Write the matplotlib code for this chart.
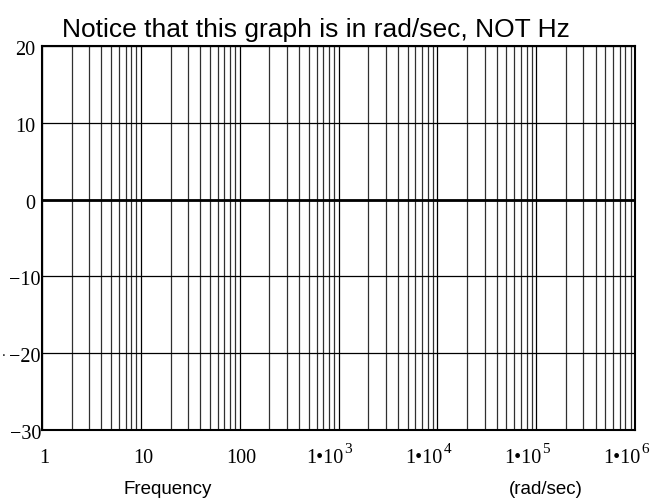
import matplotlib
matplotlib.use("Agg")
import matplotlib.pyplot as plt

# chart data
decades = [1, 10, 100, 1e3, 1e4, 1e5, 1e6]
decade_labels = ['1', '10', '100', '1•10', '1•10', '1•10', '1•10']
exponents = ['', '', '', '3', '4', '5', '6']
minor_mult = [2, 3, 4, 5, 6, 7, 8, 9]
y_ticks = [-30, -20, -10, 0, 10, 20]
y_labels = ['\u221230', '\u221220', '\u221210', '0', '10', '20']
title = 'Notice that this graph is in rad/sec, NOT Hz'

fig = plt.figure(figsize=(6.51, 5), dpi=100)
ax = fig.add_axes([0.0645, 0.14, 0.911, 0.768])
ax.set_xscale('log')
ax.set_xlim(1, 1e6)
ax.set_ylim(-30, 20)

# vertical grid: decades and 2..9 within each decade
for d in decades[:-1]:
    for m in minor_mult:
        ax.axvline(d * m, color='#303030', lw=0.9, zorder=1)
for d in decades:
    ax.axvline(d, color='black', lw=0.9, zorder=1)
for y in y_ticks:
    ax.axhline(y, color='black', lw=0.9, zorder=1)
ax.axhline(0, color='black', lw=2, zorder=2)

ax.set_xticks(decades)
ax.xaxis.set_minor_locator(plt.NullLocator())
ax.set_yticks(y_ticks)
ax.tick_params(length=0, labelbottom=False, labelleft=False)

# tick labels drawn by hand (mathcad style superscripts)
serif = 'Liberation Serif'
xt = ax.get_xaxis_transform()
for d, lab, ex in zip(decades, decade_labels, exponents):
    if ex == '':
        ax.annotate(lab, xy=(d, 0), xycoords=xt, xytext=(2, -33), textcoords='offset pixels',
                    ha='center', va='baseline', family=serif, fontsize=14.5, annotation_clip=False)
    else:
        ax.annotate(lab, xy=(d, 0), xycoords=xt, xytext=(5, -33), textcoords='offset pixels',
                    ha='right', va='baseline', family=serif, fontsize=14.5, annotation_clip=False)
        ax.annotate(ex, xy=(d, 0), xycoords=xt, xytext=(6, -23), textcoords='offset pixels',
                    ha='left', va='baseline', family=serif, fontsize=11, annotation_clip=False)

yt = ax.get_yaxis_transform()
for y, lab in zip(y_ticks, y_labels):
    dx = -7 if y >= 0 else -1
    ax.annotate(lab, xy=(0, y), xycoords=yt, xytext=(dx, -2), textcoords='offset pixels',
                ha='right', va='center_baseline', family=serif, fontsize=14.5, annotation_clip=False)

for s in ax.spines.values():
    s.set_linewidth(1.5)

fig.text(0.485, 0.94, title, ha='center', va='center', family='Liberation Sans', fontsize=19)
fig.text(0.257, 0.02, 'Frequency', ha='center', va='center', family='Liberation Sans', fontsize=13.5)
fig.text(0.838, 0.02, '(rad/sec)', ha='center', va='center', family='Liberation Sans', fontsize=13.5)
fig.text(0.002, 0.295, '.', ha='left', va='center', family='Liberation Sans', fontsize=10)

fig.savefig('out.png', dpi=100)
